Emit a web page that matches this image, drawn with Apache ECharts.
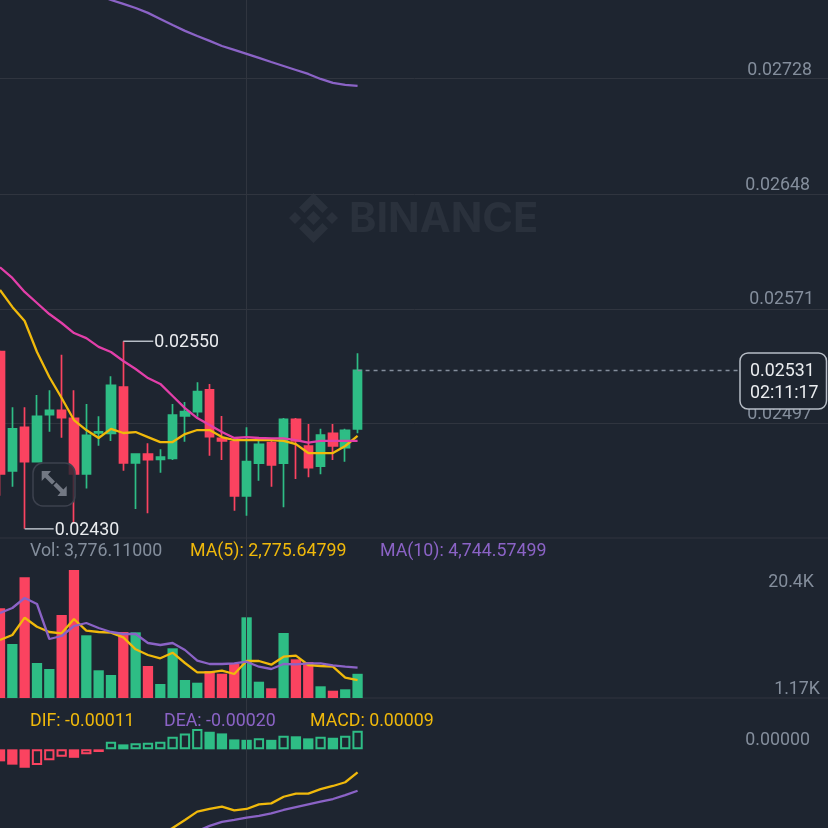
<!DOCTYPE html>
<html><head><meta charset="utf-8">
<style>html,body{margin:0;padding:0;background:#1e2530}#c{width:828px;height:828px}</style>
<script src="https://cdn.jsdelivr.net/npm/echarts@6/dist/echarts.min.js"></script>
</head><body><div id="c"></div>
<script>
const opens=[.025432,.024664,.024942,.024723,.025023,.025052,.025000,.024645,.024906,.024904,.025202,.024715,.024772,.024738,.024744,.025015,.025043,.025183,.024872,.024850,.024506,.024713,.024844,.024713,.024994,.024823,.024695,.024904,.024812,.024933];
const closes=[.024645,.024932,.024723,.025013,.025052,.025004,.024645,.024891,.024914,.025213,.024716,.024772,.024736,.024753,.025021,.025043,.025172,.024882,.024855,.024506,.024723,.024834,.024702,.024994,.024855,.024685,.024893,.024823,.024923,.025310];
const lows=[.024508,.024564,.024300,.024723,.024914,.024876,.024335,.024554,.024825,.024855,.024666,.024424,.024397,.024653,.024734,.024850,.025010,.024761,.024734,.024413,.024382,.024602,.024564,.024435,.024613,.024624,.024643,.024734,.024723,.024904];
const highs=[.025440,.025071,.025071,.025150,.025181,.025412,.025181,.025092,.025013,.025271,.025500,.024772,.024840,.024802,.025092,.025105,.025233,.025222,.025015,.024855,.024942,.024855,.024855,.025002,.025002,.024964,.024933,.024964,.024933,.025421];
const maYellow=[.025838,.025726,.025633,.025430,.025267,.025131,.024989,.024925,.024874,.024932,.024906,.024912,.024880,.024848,.024848,.024899,.024925,.024925,.024880,.024861,.024861,.024861,.024861,.024855,.024835,.024778,.024778,.024778,.024823,.024887];
const maPink=[.025989,.025918,.025825,.025752,.025679,.025620,.025554,.025521,.025463,.025430,.025371,.025319,.025260,.025222,.025144,.025066,.025002,.024957,.024912,.024874,.024880,.024874,.024871,.024871,.024861,.024844,.024855,.024855,.024855,.024855];
const maPurple=[null,null,null,null,null,null,null,null,.027873,.027837,.027809,.027780,.027745,.027702,.027659,.027617,.027581,.027546,.027510,.027482,.027454,.027426,.027397,.027369,.027341,.027313,.027278,.027250,.027236,.027229];
const volumes=[13993,8424,18829,5460,4524,12948,19968,9781,4321,3588,10296,10249,4992,2184,7753,2808,2387,4212,3791,5304,12589,2543,1513,10140,6037,5616,1825,1139,1357,3776];
const volMA5=[9048,9828,12527,11123,10296,10093,12324,10499,10296,10187,9469,7597,6708,6193,7067,5460,4009,4009,4259,3744,5772,5772,5195,6443,6599,5148,4992,4883,3167,2775];
const volMA10=[13260,14040,15600,14664,9204,9672,11232,11700,10920,10296,9984,9984,8580,8268,8580,7488,5819,5304,5304,5413,5663,4883,4524,5304,5257,5413,5413,5101,4883,4745];
const macdHist=[-5.8e-5,-7.4e-5,-8.9e-5,-7.6e-5,-5.3e-5,-3.6e-5,-4.1e-5,-2.4e-5,-1.3e-5,3.7e-5,2.4e-5,3.0e-5,3.2e-5,3.7e-5,6.1e-5,7.7e-5,9.8e-5,8.5e-5,7.7e-5,4.8e-5,4.6e-5,5.3e-5,4.6e-5,6.6e-5,6.3e-5,5.3e-5,6.1e-5,5.6e-5,6.6e-5,9.0e-5];
const dif=[null,null,null,null,null,null,null,null,null,null,null,null,null,-4.14e-4,-3.80e-4,-3.41e-4,-3.01e-4,-2.88e-4,-2.77e-4,-2.95e-4,-2.88e-4,-2.66e-4,-2.61e-4,-2.29e-4,-2.14e-4,-2.14e-4,-1.92e-4,-1.77e-4,-1.59e-4,-1.11e-4];
const dea=[null,null,null,null,null,null,null,null,null,null,null,null,null,null,null,null,-3.95e-4,-3.70e-4,-3.50e-4,-3.41e-4,-3.30e-4,-3.21e-4,-3.09e-4,-2.93e-4,-2.79e-4,-2.66e-4,-2.53e-4,-2.40e-4,-2.21e-4,-2.00e-4];
const priceTicks=[0.02728,0.02648,0.02571,0.02497];
const priceTickLabels=['0.02728','0.02648','0.02571','0.02497'];
const lastPrice=0.02531, countdown='02:11:17', highMark=0.0255, lowMark=0.0243;
const volLegend='Vol: 3,776.11000', volMA5Legend='MA(5): 2,775.64799', volMA10Legend='MA(10): 4,744.57499';
const macdLegend=['DIF: -0.00011','DEA: -0.00020','MACD: 0.00009'];
const volTickLabels=['20.4K','1.17K'], macdTickLabel='0.00000';

const categories=opens.map((_,i)=>String(i+1));
const slots=69; while(categories.length<slots)categories.push('');

const BG='#1e2530',GREEN='#2ebd85',RED='#fb4360',YELLOW='#f0b90b',PINK='#e23fa9',PURPLE='#8b63c6',GRID='#30353f',GRAY='#848e9c',FONT='Roboto',FS=17.8;
const hiddenY={splitLine:{show:false},axisLine:{show:false},axisTick:{show:false},axisLabel:{show:false}};
const mkX=(g)=>({type:'category',gridIndex:g,data:categories,axisTick:{show:false},axisLabel:{show:false},splitLine:{show:false},axisLine:{show:false}});
const flatLine=(v)=>[{coord:[0,v]},{coord:[slots-1,v]}];
const vLine={silent:true,symbol:'none',label:{show:false},lineStyle:{color:GRID,width:1,type:'solid'},data:[{xAxis:20}]};
const maLine=(name,d,color,x,y)=>({name,type:'line',data:d,xAxisIndex:x,yAxisIndex:y,showSymbol:false,symbol:'none',z:5,silent:true,
  lineStyle:{color,width:2.3},itemStyle:{color}});
const txt=(text,x,y,fill,align,extra)=>Object.assign({type:'text',z:100,style:{text,x,y:y+2,fill,align:align||'left',verticalAlign:'middle',font:FS+'px '+FONT}},extra||{});
const poly=(points,fill,z)=>({type:'polygon',z:z||1,silent:true,shape:{points},style:{fill}});

const priceRight=[812,810,814,812], priceY=[69,184,298,413];
const WM='#2a313c';
const graphic=[
  poly([[313.5,193],[328,207.5],[322.5,213],[313.5,204],[304.5,213],[299,207.5]],WM),
  poly([[313.5,243],[328,228.5],[322.5,223],[313.5,232],[304.5,223],[299,228.5]],WM),
  poly([[313.5,211],[320.5,218],[313.5,225],[306.5,218]],WM),
  poly([[295,212],[301,218],[295,224],[289,218]],WM),
  poly([[332,212],[338,218],[332,224],[326,218]],WM),
  {type:'text',z:1,silent:true,style:{text:'BINANCE',x:349,y:220,fill:WM,align:'left',verticalAlign:'middle',font:'bold 41.5px Inter'}},
  ...priceTickLabels.map((t,i)=>txt(t,priceRight[i],priceY[i],GRAY,'right')),
  {type:'line',z:2,silent:true,shape:{x1:0,y1:538,x2:828,y2:538},style:{stroke:GRID,lineWidth:1}},
  {type:'line',z:2,silent:true,shape:{x1:0,y1:698,x2:828,y2:698},style:{stroke:GRID,lineWidth:1}},
  {type:'rect',z:101,shape:{x:740,y:353,width:86.5,height:56,r:8},style:{fill:BG,stroke:'#b7bdc6',lineWidth:1.5}},
  txt(lastPrice.toFixed(5),750,370,'#eaecef','left',{z:102}),
  txt(countdown,750,392,'#eaecef','left',{z:102}),
  txt(volLegend,30,550,GRAY),txt(volMA5Legend,190,550,YELLOW),txt(volMA10Legend,380,550,PURPLE),
  txt(volTickLabels[0],814,581,GRAY,'right'),txt(volTickLabels[1],820,688,GRAY,'right'),
  txt(macdLegend[0],30,720,YELLOW),txt(macdLegend[1],164,720,PURPLE),txt(macdLegend[2],310,720,YELLOW),
  txt(macdTickLabel,810,739,GRAY,'right'),
  {type:'rect',z:90,silent:true,shape:{x:33,y:463,width:42,height:43,r:10},style:{fill:'rgba(30,37,48,0.8)',stroke:'#3d424e',lineWidth:1.5}},
  poly([[41.7,471],[51,471],[48,474.5],[55,481.5],[52,484.5],[45,477.5],[41.7,481]],'#727883',91),
  poly([[66.7,496],[57.4,496],[60.4,492.5],[53.4,485.5],[56.4,482.5],[63.4,489.5],[66.7,486]],'#727883',91)
];
const hiLoMark=(idx,val,len)=>({coord:[idx,val],symbol:'rect',symbolSize:[len,1.5],symbolOffset:[len/2,0],
  itemStyle:{color:'#b7bdc6'},label:{show:true,position:'right',distance:2,offset:[-1,1.5],formatter:val.toFixed(5),color:'#eaecef',fontFamily:FONT,fontSize:FS}});

const gridBase={left:-6.165,width:850.77,outerBoundsMode:'none',containLabel:false};
const option={
  animation:false,backgroundColor:BG,graphic,
  grid:[
    Object.assign({top:0,height:538},gridBase),
    Object.assign({top:538,height:160},gridBase),
    Object.assign({top:698,height:130},gridBase)],
  xAxis:[mkX(0),mkX(1),mkX(2)],
  yAxis:[
    Object.assign({type:'log',gridIndex:0,min:0.024243,max:0.027837,scale:true},hiddenY),
    Object.assign({type:'value',gridIndex:1,min:0,max:24960},hiddenY),
    Object.assign({type:'value',gridIndex:2,min:-3.80e-4,max:2.48e-4},hiddenY)],
  series:[
    {type:'line',data:[],xAxisIndex:0,yAxisIndex:0,z:1,silent:true,markLine:{silent:true,symbol:'none',label:{show:false},z:1,
      lineStyle:{color:GRID,width:1,type:'solid'},data:[{xAxis:20},...priceTicks.map(flatLine)]}},
    {type:'line',data:[],xAxisIndex:1,yAxisIndex:1,z:1,silent:true,markLine:vLine},
    {type:'line',data:[],xAxisIndex:2,yAxisIndex:2,z:1,silent:true,markLine:vLine},
    {name:'K',type:'candlestick',xAxisIndex:0,yAxisIndex:0,z:3,barWidth:9,silent:true,
      data:opens.map((o,i)=>[o,closes[i],lows[i],highs[i]]),
      itemStyle:{color:GREEN,color0:RED,borderColor:GREEN,borderColor0:RED,borderWidth:1.7},
      markPoint:{silent:true,z:6,data:[hiLoMark(10,highMark,30),hiLoMark(2,lowMark,29)]},
      markLine:{silent:true,symbol:'none',z:4,label:{show:false},lineStyle:{color:GRAY,width:1.3,type:[4,4]},
        data:[[{coord:[29,lastPrice]},{coord:[61,lastPrice]}]]}},
    maLine('MA7',maYellow,YELLOW,0,0),
    maLine('MA25',maPink,PINK,0,0),
    maLine('MA99',maPurple,PURPLE,0,0),
    {name:'Vol',type:'bar',xAxisIndex:1,yAxisIndex:1,barWidth:10.3,z:3,silent:true,
      data:volumes.map((v,i)=>({value:v,itemStyle:{color:closes[i]>opens[i]?GREEN:RED}}))},
    maLine('VolMA5',volMA5,YELLOW,1,1),
    maLine('VolMA10',volMA10,PURPLE,1,1),
    {name:'MACD',type:'bar',xAxisIndex:2,yAxisIndex:2,barWidth:10.3,z:3,silent:true,
      data:macdHist.map((v,i)=>{
        const c=v>=0?GREEN:RED, hollow=i>0&&v>macdHist[i-1];
        return {value:v,itemStyle:hollow?{color:'rgba(0,0,0,0)',borderColor:c,borderWidth:2}:{color:c}};
      })},
    maLine('DIF',dif,YELLOW,2,2),
    maLine('DEA',dea,PURPLE,2,2)
  ]
};
const chart=echarts.init(document.getElementById('c'),null,{width:828,height:828});
chart.setOption(option);
</script></body></html>
